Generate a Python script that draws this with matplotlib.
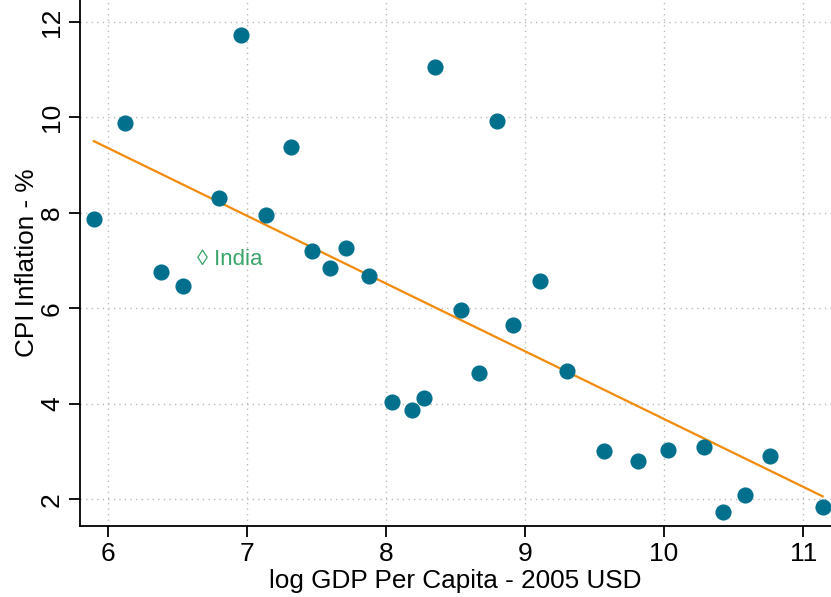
import numpy as np
import matplotlib
matplotlib.use("Agg")
import matplotlib.pyplot as plt

plt.rcParams['font.family'] = ['Liberation Sans', 'DejaVu Sans']

# log GDP per capita (2005 USD) and CPI inflation (%)
log_gdp = [5.90, 6.12, 6.38, 6.54, 6.80, 6.96, 7.14, 7.32, 7.47, 7.60,
           7.71, 7.88, 8.04, 8.19, 8.27, 8.35, 8.54, 8.67, 8.80, 8.91,
           9.11, 9.30, 9.57, 9.81, 10.03, 10.29, 10.42, 10.58, 10.76, 11.14]
cpi = [7.87, 9.88, 6.76, 6.47, 8.31, 11.73, 7.95, 9.38, 7.20, 6.84,
       7.26, 6.67, 4.03, 3.87, 4.12, 11.06, 5.96, 4.64, 9.92, 5.65,
       6.57, 4.68, 3.01, 2.80, 3.03, 3.09, 1.73, 2.08, 2.90, 1.83]
india_x, india_y = 6.67, 7.03

# linear fit: cpi = fit_a + fit_b * log_gdp
fit_a, fit_b = 17.88, -1.42

xticks = [6, 7, 8, 9, 10, 11]
yticks = [2, 4, 6, 8, 10, 12]

x = np.array(log_gdp)
y = np.array(cpi)
xs = np.array([x.min(), x.max()])

fig = plt.figure(figsize=(8.31, 5.97), dpi=100)
ax = fig.add_axes([0.0963, 0.119, 0.9037, 0.881])

ax.scatter(x, y, s=135, color='#00708c', zorder=3, linewidths=0)
ax.plot(xs, fit_a + fit_b * xs, color='#f28a0a', lw=1.6, zorder=2)
ax.text(india_x - 0.03, india_y, '\u25ca India', color='#3aa56a', fontsize=16,
        ha='left', va='center')

ax.set_xlim(5.8, 11.2)
ax.set_ylim(1.44, 12.46)
ax.set_xticks(xticks)
ax.set_yticks(yticks)
ax.set_yticklabels([str(t) for t in yticks], rotation=90, va='center')
ax.tick_params(labelsize=19, length=8, width=1.3, direction='out')
ax.grid(True, ls=(0, (1, 3)), color='#bbbbbb', lw=1)
for s in ['top', 'right']:
    ax.spines[s].set_visible(False)
for s in ['left', 'bottom']:
    ax.spines[s].set_linewidth(1.3)

ax.set_xlabel('log GDP Per Capita - 2005 USD', fontsize=18.8, labelpad=2)
ax.set_ylabel('CPI Inflation - %', fontsize=18.8, labelpad=1)

fig.savefig('out.png', dpi=100)
